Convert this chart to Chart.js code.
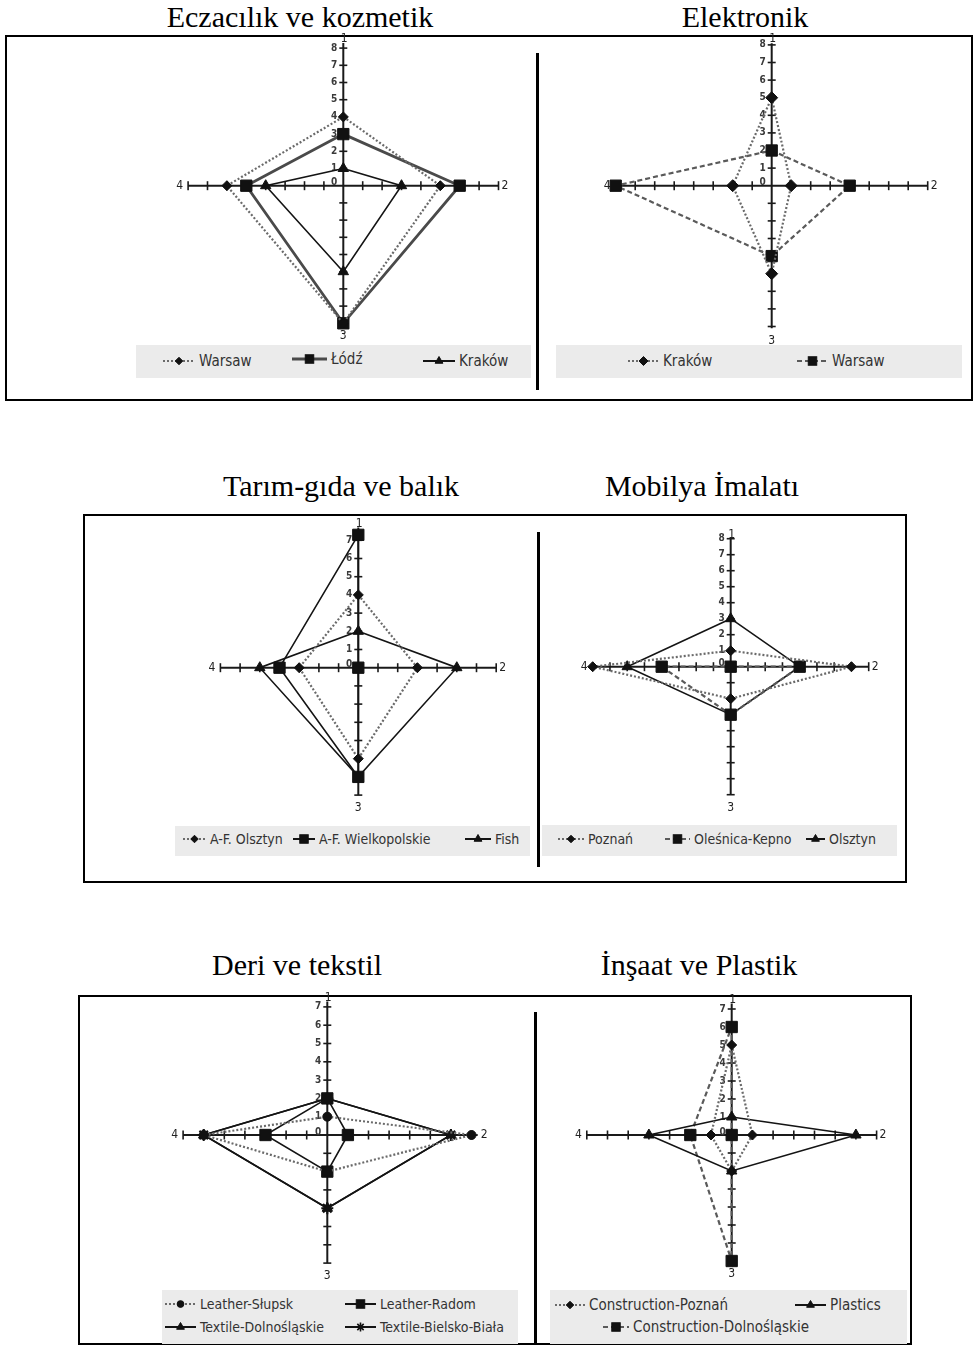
<!DOCTYPE html>
<html>
<head>
<meta charset="utf-8">
<script src="https://cdn.jsdelivr.net/npm/chart.js@4.4.1/dist/chart.umd.min.js"></script>
<style>
  html, body { margin: 0; padding: 0; background: #fff; }
  body { width: 975px; height: 1353px; position: relative; overflow: hidden; }
  .title { position: absolute; font-family: "Liberation Serif", "Times New Roman", serif; font-size: 30px; line-height: 30px; color: #000; white-space: nowrap; transform: translateX(-50%); }
  .box { position: absolute; border: 2px solid #000; box-sizing: border-box; }
  .sep { position: absolute; background: #000; width: 3px; }
  .legend { position: absolute; background: #ebebeb; }
  .item { position: absolute; height: 16px; display: flex; align-items: center; white-space: nowrap; font-family: "Liberation Sans Narrow", "DejaVu Sans Condensed", "Arial Narrow", sans-serif; color: #333; }
  .item svg { position: absolute; top: 1px; }
  .item span { position: absolute; top: 50%; transform: translateY(-50%); line-height: 1; }
  canvas { position: absolute; }
</style>
</head>
<body>
<script>
// ---------------- data ----------------
// radial axes, in the order Chart draws them: top, right, bottom, left
const AXIS_LABELS = ['1', '2', '3', '4'];

const CHART_TITLES = ['Eczacılık ve kozmetik', 'Elektronik', 'Tarım-gıda ve balık', 'Mobilya İmalatı', 'Deri ve tekstil', 'İnşaat ve Plastik'];

// Eczacılık ve kozmetik
const pharmaNames = ['Warsaw', 'Łódź', 'Kraków'];
const pharmaWarsaw = [4, 5, 8, 6];
const pharmaLodz = [3, 6, 8, 5];
const pharmaKrakow = [1, 3, 5, 4];
const pharmaTicks = [0, 1, 2, 3, 4, 5, 6, 7, 8];

// Elektronik
const electroNames = ['Kraków', 'Warsaw'];
const electroKrakow = [5, 1, 5, 2];
const electroWarsaw = [2, 4, 4, 8];
const electroTicks = [0, 1, 2, 3, 4, 5, 6, 7, 8];

// Tarım-gıda ve balık
const agroNames = ['A-F. Olsztyn', 'A-F. Wielkopolskie', 'Fish'];
const agroOlsztyn = [4, 3, 5, 3];
const agroWielkopolskie = [7.3, 0, 6, 4];
const agroFish = [2, 5, 6, 5];
const agroTicks = [0, 1, 2, 3, 4, 5, 6, 7];

// Mobilya İmalatı
const furnNames = ['Poznań', 'Oleśnica-Kepno', 'Olsztyn'];
const furnPoznan = [1, 7, 2, 8];
const furnOlesnica = [0, 4, 3, 4];
const furnOlsztyn = [3, 4, 3, 6];
const furnTicks = [0, 1, 2, 3, 4, 5, 6, 7, 8];

// Deri ve tekstil
const textNames = ['Leather-Słupsk', 'Leather-Radom', 'Textile-Dolnośląskie', 'Textile-Bielsko-Biała'];
const textSlupsk = [1, 7, 2, 6];
const textRadom = [2, 1, 2, 3];
const textDolnoslaskie = [2, 6, 4, 6];
const textBielsko = [2, 6, 4, 6];
const textTicks = [0, 1, 2, 3, 4, 5, 6, 7];

// İnşaat ve Plastik
const constrNames = ['Construction-Poznań', 'Plastics', 'Construction-Dolnośląskie'];
const constrPoznan = [5, 1, 2, 1];
const constrPlastics = [1, 6, 2, 4];
const constrDolnoslaskie = [6, 0, 7, 2];
const constrTicks = [0, 1, 2, 3, 4, 5, 6, 7];

// ---------------- styles ----------------
const LINE = {
  dotted:     { color: '#6a6a6a', width: 2.2, dash: [2, 2] },
  dashed:     { color: '#5a5a5a', width: 2.2, dash: [5, 3] },
  solid:      { color: '#141414', width: 1.6, dash: [] },
  solidThick: { color: '#4a4a4a', width: 2.8, dash: [] }
};

// direction of each radial axis (top, right, bottom, left)
const DIRS = [[0, 1], [1, 0], [0, -1], [-1, 0]];
function closedPoints(values) {
  const pts = values.map((v, i) => ({ x: DIRS[i][0] * v, y: DIRS[i][1] * v }));
  pts.push(pts[0]);
  return pts;
}

const CHARTS = [
  { cx: 343.3, cy: 185.7, px: 19.4, py: 17.2, x: [-8, 8], y: [-8, 8.3], ticks: pharmaTicks,
    series: [
      { name: pharmaNames[0], values: pharmaWarsaw, marker: 'rectRot', r: 5, style: 'dotted' },
      { name: pharmaNames[1], values: pharmaLodz, marker: 'rect', r: 8, style: 'solidThick' },
      { name: pharmaNames[2], values: pharmaKrakow, marker: 'triangle', r: 6, style: 'solid' }
    ],
    legend: { box: [136, 345, 395, 33], font: 15, items: [[163, 199, 361], [292, 331, 359], [423, 459, 361]] } },
  { cx: 771.7, cy: 185.7, px: 19.5, py: 17.6, x: [-8, 8], y: [-8.1, 8.1], ticks: electroTicks,
    series: [
      { name: electroNames[0], values: electroKrakow, marker: 'rectRot', r: 6, style: 'dotted' },
      { name: electroNames[1], values: electroWarsaw, marker: 'rect', r: 8, style: 'dashed' }
    ],
    legend: { box: [556, 345, 406, 33], font: 15, items: [[628, 663, 361], [797, 832, 361]] } },
  { cx: 358.3, cy: 667.7, px: 19.7, py: 18.2, x: [-7, 7], y: [-7, 7.7], ticks: agroTicks,
    series: [
      { name: agroNames[0], values: agroOlsztyn, marker: 'rectRot', r: 5, style: 'dotted' },
      { name: agroNames[1], values: agroWielkopolskie, marker: 'rect', r: 8, style: 'solid' },
      { name: agroNames[2], values: agroFish, marker: 'triangle', r: 6, style: 'solid' }
    ],
    legend: { box: [175, 826, 355, 30], font: 14, items: [[183, 210, 839], [293, 319, 839], [465, 495, 839]] } },
  { cx: 730.7, cy: 666.7, px: 17.25, py: 16.0, x: [-8, 8], y: [-8, 8], ticks: furnTicks,
    series: [
      { name: furnNames[0], values: furnPoznan, marker: 'rectRot', r: 5, style: 'dotted' },
      { name: furnNames[1], values: furnOlesnica, marker: 'rect', r: 8, style: 'dashed' },
      { name: furnNames[2], values: furnOlsztyn, marker: 'triangle', r: 6, style: 'solid' }
    ],
    legend: { box: [542, 825, 355, 31], font: 14, items: [[558, 588, 839], [665, 694, 839], [806, 829, 839]] } },
  { cx: 327.3, cy: 1135, px: 20.6, py: 18.3, x: [-7, 7.3], y: [-7, 7.3], ticks: textTicks,
    series: [
      { name: textNames[0], values: textSlupsk, marker: 'circle', r: 4.5, style: 'dotted' },
      { name: textNames[1], values: textRadom, marker: 'rect', r: 8, style: 'solid' },
      { name: textNames[2], values: textDolnoslaskie, marker: 'triangle', r: 6, style: 'solid' },
      { name: textNames[3], values: textBielsko, marker: 'star', r: 6, style: 'solid' }
    ],
    legend: { box: [162, 1290, 356, 54], font: 14, items: [[165, 200, 1304], [345, 380, 1304], [165, 200, 1327], [345, 380, 1327]] } },
  { cx: 731.7, cy: 1135, px: 20.7, py: 18.0, x: [-7, 7], y: [-7, 7.3], ticks: constrTicks,
    series: [
      { name: constrNames[0], values: constrPoznan, marker: 'rectRot', r: 5, style: 'dotted' },
      { name: constrNames[1], values: constrPlastics, marker: 'triangle', r: 6, style: 'solid' },
      { name: constrNames[2], values: constrDolnoslaskie, marker: 'rect', r: 8, style: 'dashed' }
    ],
    legend: { box: [550, 1290, 357, 54], font: 15, items: [[555, 589, 1305], [795, 830, 1305], [603, 633, 1327]] } }
];

// ---------------- page furniture ----------------
const TITLE_POS = [[300, 2], [745, 2], [341, 471], [702, 471], [297, 950], [699, 950]];
const BOXES = [[5, 35, 968, 366], [83, 514, 824, 369], [78, 995, 834, 350]];
const SEPS = [[536, 53, 337], [537, 532, 335], [534, 1012, 333]];

CHART_TITLES.forEach((t, i) => {
  const d = document.createElement('div');
  d.className = 'title'; d.textContent = t;
  d.style.left = TITLE_POS[i][0] + 'px'; d.style.top = TITLE_POS[i][1] + 'px';
  document.body.appendChild(d);
});
BOXES.forEach(b => {
  const d = document.createElement('div'); d.className = 'box';
  Object.assign(d.style, { left: b[0] + 'px', top: b[1] + 'px', width: b[2] + 'px', height: b[3] + 'px' });
  document.body.appendChild(d);
});
SEPS.forEach(s => {
  const d = document.createElement('div'); d.className = 'sep';
  Object.assign(d.style, { left: s[0] + 'px', top: s[1] + 'px', height: s[2] + 'px' });
  document.body.appendChild(d);
});

// ---------------- axes plugin ----------------
const starAxes = {
  id: 'starAxes',
  beforeDatasetsDraw(chart, args, opts) {
    const { ctx } = chart;
    const xs = chart.scales.x, ys = chart.scales.y;
    const cx = xs.getPixelForValue(0), cy = ys.getPixelForValue(0);
    const xl = xs.getPixelForValue(xs.min), xr = xs.getPixelForValue(xs.max);
    const yt = ys.getPixelForValue(ys.max), yb = ys.getPixelForValue(ys.min);
    ctx.save();
    ctx.strokeStyle = '#1a1a1a';
    ctx.lineWidth = 2;
    ctx.beginPath(); ctx.moveTo(xl, cy); ctx.lineTo(xr, cy); ctx.stroke();
    ctx.beginPath(); ctx.moveTo(cx, yt); ctx.lineTo(cx, yb); ctx.stroke();
    ctx.lineWidth = 1.6;
    for (let v = Math.ceil(xs.min); v <= Math.floor(xs.max); v++) {
      if (v === 0) continue;
      const p = xs.getPixelForValue(v);
      ctx.beginPath(); ctx.moveTo(p, cy - 4.5); ctx.lineTo(p, cy + 4.5); ctx.stroke();
    }
    for (let v = Math.ceil(ys.min); v <= Math.floor(ys.max); v++) {
      if (v === 0) continue;
      const p = ys.getPixelForValue(v);
      ctx.beginPath(); ctx.moveTo(cx - 4, p); ctx.lineTo(cx + 4, p); ctx.stroke();
    }
    // tick labels on the upper half of the vertical axis
    ctx.fillStyle = '#3a3a3a';
    ctx.font = 'bold 10px "Liberation Sans Narrow", "DejaVu Sans Condensed", sans-serif';
    ctx.textAlign = 'right'; ctx.textBaseline = 'middle';
    opts.ticks.forEach(t => ctx.fillText(String(t), cx - 6, ys.getPixelForValue(t) + (t === 0 ? -3 : 0)));
    // axis names
    ctx.fillStyle = '#222';
    ctx.font = '12px "Liberation Sans Narrow", "DejaVu Sans Condensed", sans-serif';
    ctx.textAlign = 'center'; ctx.textBaseline = 'bottom';
    ctx.fillText(AXIS_LABELS[0], cx + 1, yt + 2);
    ctx.textBaseline = 'top';
    ctx.fillText(AXIS_LABELS[2], cx, yb + 7);
    ctx.textAlign = 'left'; ctx.textBaseline = 'middle';
    ctx.fillText(AXIS_LABELS[1], xr + 3, cy);
    ctx.textAlign = 'right';
    ctx.fillText(AXIS_LABELS[3], xl - 5, cy);
    ctx.restore();
  }
};

// ---------------- legend swatches ----------------
function markerSVG(type, x, y, r) {
  const f = 'fill="#111" stroke="#111"';
  if (type === 'rect') { const s = r * Math.SQRT1_2; return `<rect x="${x - s}" y="${y - s}" width="${2 * s}" height="${2 * s}" ${f}/>`; }
  if (type === 'rectRot') return `<polygon points="${x - r},${y} ${x},${y - r} ${x + r},${y} ${x},${y + r}" ${f}/>`;
  if (type === 'triangle') { const w = r * 0.866; return `<polygon points="${x - w},${y + r / 2} ${x},${y - r} ${x + w},${y + r / 2}" ${f}/>`; }
  if (type === 'circle') return `<circle cx="${x}" cy="${y}" r="${r}" ${f}/>`;
  if (type === 'star') {
    let d = '';
    for (let k = 0; k < 4; k++) { const a = k * Math.PI / 4; d += `M${x - r * Math.cos(a)},${y - r * Math.sin(a)}L${x + r * Math.cos(a)},${y + r * Math.sin(a)}`; }
    return `<path d="${d}" stroke="#111" stroke-width="1.6"/>`;
  }
  return '';
}

CHARTS.forEach((spec) => {
  // legend (HTML)
  const lg = spec.legend;
  const box = document.createElement('div'); box.className = 'legend';
  Object.assign(box.style, { left: lg.box[0] + 'px', top: lg.box[1] + 'px', width: lg.box[2] + 'px', height: lg.box[3] + 'px' });
  document.body.appendChild(box);
  spec.series.forEach((s, k) => {
    const [sx, tx, cy] = lg.items[k];
    const st = LINE[s.style];
    const w = tx - sx - 4;
    const it = document.createElement('div'); it.className = 'item';
    Object.assign(it.style, { left: sx + 'px', top: (cy - 8) + 'px', fontSize: lg.font + 'px' });
    it.innerHTML = `<svg width="${w}" height="14" style="left:0"><line x1="0" y1="7" x2="${w}" y2="7" stroke="${st.color}" stroke-width="${Math.max(st.width, 2)}" stroke-dasharray="${st.dash.join(' ')}"/>${markerSVG(s.marker, w / 2, 7, s.r * 0.75)}</svg><span style="left:${tx - sx}px">${s.name}</span>`;
    document.body.appendChild(it);
  });

  // chart (canvas)
  const aL = spec.cx + spec.x[0] * spec.px, aR = spec.cx + spec.x[1] * spec.px;
  const aT = spec.cy - spec.y[1] * spec.py, aB = spec.cy - spec.y[0] * spec.py;
  const P = 26;
  const left = Math.floor(aL - P), top = Math.floor(aT - P);
  const right = Math.ceil(aR + P), bottom = Math.ceil(aB + P);
  const cv = document.createElement('canvas');
  cv.width = right - left; cv.height = bottom - top;
  cv.style.left = left + 'px'; cv.style.top = top + 'px';
  cv.style.width = (right - left) + 'px'; cv.style.height = (bottom - top) + 'px';
  document.body.appendChild(cv);

  new Chart(cv, {
    type: 'scatter',
    data: {
      datasets: spec.series.map(s => ({
        label: s.name,
        data: closedPoints(s.values),
        showLine: true,
        fill: false,
        tension: 0,
        borderColor: LINE[s.style].color,
        borderWidth: LINE[s.style].width,
        borderDash: LINE[s.style].dash,
        pointStyle: s.marker,
        pointRadius: [s.r, s.r, s.r, s.r, 0],
        pointHoverRadius: 0,
        pointBackgroundColor: '#111',
        pointBorderColor: '#111',
        pointBorderWidth: s.marker === 'star' ? 2 : 1,
        clip: false
      }))
    },
    options: {
      responsive: false,
      animation: false,
      devicePixelRatio: 1,
      events: [],
      layout: { padding: { left: aL - left, right: right - aR, top: aT - top, bottom: bottom - aB } },
      scales: {
        x: { type: 'linear', min: spec.x[0], max: spec.x[1], display: false },
        y: { type: 'linear', min: spec.y[0], max: spec.y[1], display: false }
      },
      plugins: {
        legend: { display: false },
        tooltip: { enabled: false },
        starAxes: { ticks: spec.ticks }
      }
    },
    plugins: [starAxes]
  });
});
</script>
</body>
</html>
